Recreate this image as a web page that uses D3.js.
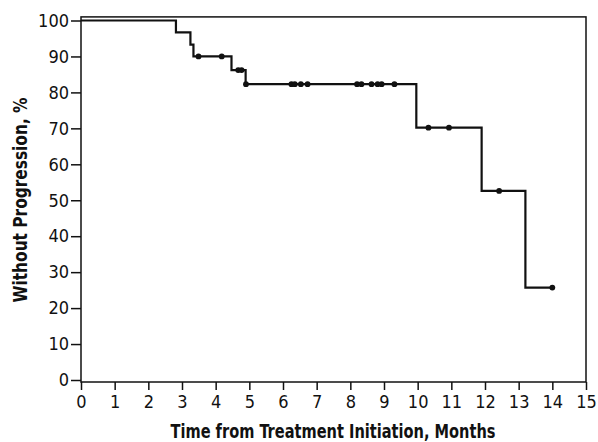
<!DOCTYPE html>
<html>
<head>
<meta charset="utf-8">
<script src="https://cdn.jsdelivr.net/npm/d3@7"></script>
<style>
  body { margin: 0; background: #fff; }
  .axis text { font-family: "DejaVu Sans Condensed", "Liberation Sans Narrow", sans-serif; font-size: 18px; fill: #111; }
  .axis path, .axis line { stroke: #111; stroke-width: 1.5; }
  .title { font-family: "DejaVu Sans Condensed", "Liberation Sans Narrow", sans-serif; font-weight: bold; font-size: 19px; fill: #111; }
</style>
</head>
<body>
<div id="chart"></div>
<script>
;(function () {
    // Kaplan-Meier steps (months, % without progression)
    const stepTimes = [0, 2.82, 3.25, 3.34, 4.47, 4.89, 9.96, 11.9, 13.2];
    const stepSurv = [100, 96.7, 93.3, 90.0, 86.2, 82.3, 70.2, 52.6, 25.7];
    const endTime = 14.0;
    // censored observations
    const censorTimes = [3.49, 4.18, 4.67, 4.77, 4.9, 6.25, 6.35, 6.53, 6.73, 8.2, 8.33, 8.63, 8.81, 8.93, 9.31, 10.32, 10.93, 12.42, 14.0];
    const xTicks = d3.range(0, 16);
    const yTicks = d3.range(0, 101, 10);

    const W = 598, H = 442;

    const svg = d3.select("#chart")
        .append("svg")
        .attr("width", W)
        .attr("height", H);

    const xPositionScale = d3.scaleLinear().domain([0, 15]).range([81, 586]);
    const yPositionScale = d3.scaleLinear().domain([0, 100]).range([380, 20.5]);

    const frameTop = yPositionScale(101);
    const frameBottom = 382;

    // frame
    svg.append("rect")
        .attr("x", xPositionScale(0))
        .attr("y", frameTop)
        .attr("width", xPositionScale(15) - xPositionScale(0))
        .attr("height", frameBottom - frameTop)
        .attr("fill", "none")
        .attr("stroke", "#111")
        .attr("stroke-width", 1.5);

    const yAxis = d3.axisLeft(yPositionScale).tickValues(yTicks).tickSize(10).tickPadding(2);
    svg.append("g")
        .attr("class", "axis y-axis")
        .attr("transform", "translate(" + xPositionScale(0) + ",0)")
        .call(yAxis)
        .call(g => g.select(".domain").remove());

    const xAxis = d3.axisBottom(xPositionScale).tickValues(xTicks).tickSize(8).tickPadding(5);
    svg.append("g")
        .attr("class", "axis x-axis")
        .attr("transform", "translate(0," + frameBottom + ")")
        .call(xAxis)
        .call(g => g.select(".domain").remove());

    // step curve
    const pts = stepTimes.map((t, i) => [t, stepSurv[i]]);
    pts.push([endTime, stepSurv[stepSurv.length - 1]]);
    const line = d3.line()
        .x(d => xPositionScale(d[0]))
        .y(d => yPositionScale(d[1]))
        .curve(d3.curveStepAfter);

    svg.append("path")
        .datum(pts)
        .attr("d", line)
        .attr("fill", "none")
        .attr("stroke", "#111")
        .attr("stroke-width", 2.2);

    // censor dots
    svg.selectAll(".censor")
        .data(censorTimes)
        .enter()
        .append("circle")
        .attr("class", "censor")
        .attr("cx", d => xPositionScale(d))
        .attr("cy", d => yPositionScale(stepSurv[d3.bisectRight(stepTimes, d) - 1]))
        .attr("r", 2.9)
        .attr("fill", "#111");

    svg.append("text")
        .attr("class", "title")
        .attr("text-anchor", "middle")
        .attr("x", 333)
        .attr("y", 438)
        .attr("textLength", 325)
        .attr("lengthAdjust", "spacingAndGlyphs")
        .text("Time from Treatment Initiation, Months");

    svg.append("text")
        .attr("class", "title")
        .attr("text-anchor", "middle")
        .attr("transform", "translate(27,200) rotate(-90)")
        .attr("textLength", 205)
        .attr("lengthAdjust", "spacingAndGlyphs")
        .text("Without Progression, %");
})()
</script>
</body>
</html>
